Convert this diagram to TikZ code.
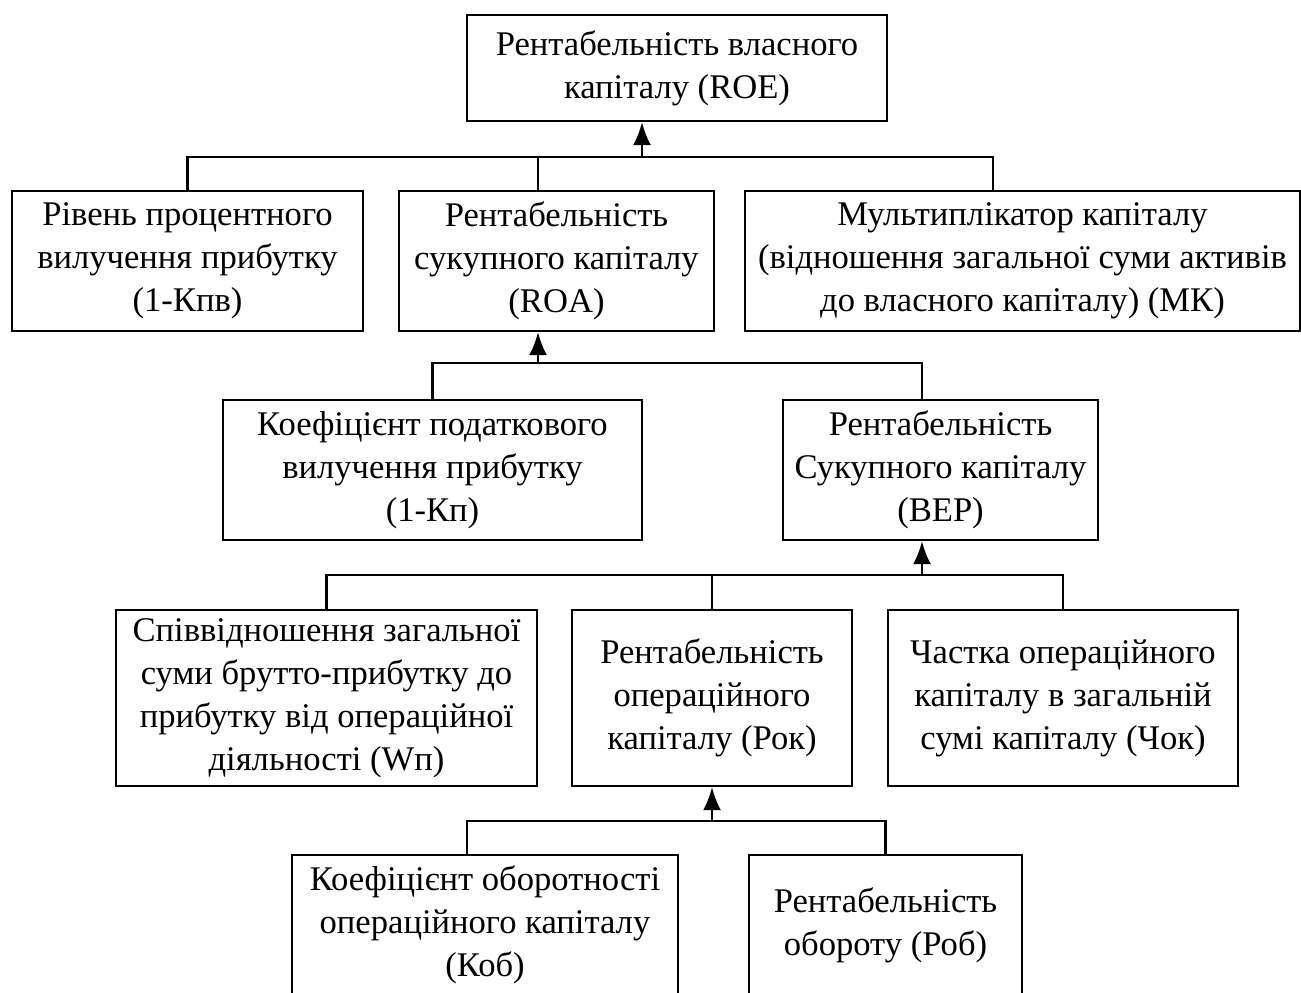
\documentclass[tikz,border=0pt]{standalone}
\usepackage{fontspec}
\setmainfont{Liberation Serif}
\usetikzlibrary{arrows.meta}
\tikzstyle{box} = [draw,line width=1.2pt,align=center,inner sep=0pt,font=\fontsize{17.3}{21.5}\selectfont]
\tikzstyle{link} = [line width=1.1pt]
\tikzstyle{arrow} = [line width=1.1pt,-{Latex[length=11.5pt,width=9pt]}]

\begin{document}
\begin{tikzpicture}[x=0.5pt,y=-0.5pt]
	\def \hb {70pt}
	\clip (0,0) rectangle (1301,992);
	
	% top
	\node (roe) at (677,68) [box,minimum width=210pt,minimum height=53pt] {Рентабельність власного\\капіталу (ROE)};
	
	% second row
	\node (rpv) at (187.5,261) [box,minimum width=175.5pt,minimum height=\hb] {Рівень процентного\\вилучення прибутку\\(1-Кпв)};
	\node (roa) at (556.5,261) [box,minimum width=157.5pt,minimum height=\hb] {Рентабельність\\сукупного капіталу\\(ROA)};
	\node (mk) at (1022.5,261) [box,minimum width=277.5pt,minimum height=\hb] {Мультиплікатор капіталу\\(відношення загальної суми активів\\до власного капіталу) (МК)};
	
	% third row
	\node (kp) at (432.5,470) [box,minimum width=209.5pt,minimum height=\hb] {Коефіцієнт податкового\\вилучення прибутку\\(1-Кп)};
	\node (bep) at (940.5,470) [box,minimum width=157.5pt,minimum height=\hb] {Рентабельність\\Сукупного капіталу\\(ВЕР)};
	
	% fourth row
	\node (wp) at (326.5,698) [box,minimum width=210.5pt,minimum height=88pt] {Співвідношення загальної\\суми брутто-прибутку до\\прибутку від операційної\\діяльності (Wп)};
	\node (rok) at (712,698) [box,minimum width=140pt,minimum height=88pt] {Рентабельність\\операційного\\капіталу (Рок)};
	\node (chok) at (1063,698) [box,minimum width=175pt,minimum height=88pt] {Частка операційного\\капіталу в загальній\\сумі капіталу (Чок)};
	
	% bottom row
	\node (kob) at (485,925) [box,minimum width=193pt,minimum height=\hb] {Коефіцієнт оборотності\\операційного капіталу\\(Коб)};
	\node (rob) at (885.5,925) [box,minimum width=136.5pt,minimum height=\hb] {Рентабельність\\обороту (Роб)};
	
	% buses
	\coordinate (b1) at (0,157);
	\coordinate (b2) at (0,363);
	\coordinate (b3) at (0,575);
	\coordinate (b4) at (0,821);
	
	\coordinate (roein) at ([xshift=-17.5pt]roe.south);
	\coordinate (roaout) at ([xshift=-9.25pt]roa.north);
	\coordinate (roain) at ([xshift=-9.25pt]roa.south);
	\coordinate (mkout) at ([xshift=-14.75pt]mk.north);
	\coordinate (bepout) at ([xshift=-9.25pt]bep.north);
	\coordinate (bepin) at ([xshift=-9.25pt]bep.south);
	\coordinate (kobout) at ([xshift=-9pt]kob.north);
	
	\draw [link] (rpv.north) |- (mkout |- b1) -- (mkout);
	\draw [link] (roaout) -- (roaout |- b1);
	\draw [arrow] (roein |- b1) -- (roein);
	
	\draw [link] (kp.north) |- (bepout |- b2) -- (bepout);
	\draw [arrow] (roain |- b2) -- (roain);
	
	\draw [link] (wp.north) |- (chok.north |- b3) -- (chok.north);
	\draw [link] (rok.north) -- (rok.north |- b3);
	\draw [arrow] (bepin |- b3) -- (bepin);
	
	\draw [link] (kobout) |- (rob.north |- b4) -- (rob.north);
	\draw [arrow] (rok.south |- b4) -- (rok.south);
\end{tikzpicture}
\end{document}
